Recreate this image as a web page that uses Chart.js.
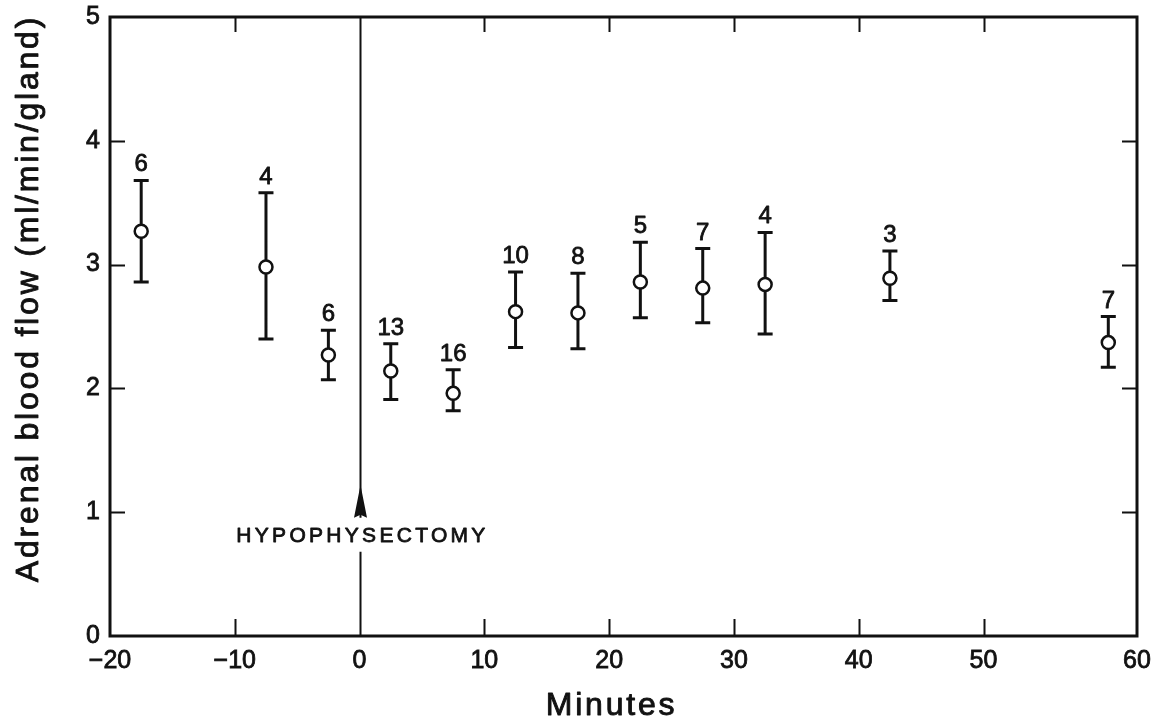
<!DOCTYPE html>
<html><head><meta charset="utf-8">
<script src="https://cdn.jsdelivr.net/npm/chart.js@4/dist/chart.umd.min.js"></script>
<style>html,body{margin:0;padding:0;background:#fff}#wrap{width:1157px;height:724px;position:relative}</style>
</head><body><div id="wrap"><canvas id="c"></canvas></div>
<script>
// ---- data ----
const minutes   = [-17.5, -7.5, -2.5, 2.5, 7.5, 12.5, 17.5, 22.5, 27.5, 32.5, 42.5, 60];
const flowMean  = [3.27, 2.98, 2.27, 2.14, 1.96, 2.62, 2.61, 2.86, 2.81, 2.84, 2.89, 2.37];
const flowUpper = [3.68, 3.58, 2.47, 2.36, 2.15, 2.94, 2.93, 3.18, 3.13, 3.26, 3.11, 2.58];
const flowLower = [2.86, 2.40, 2.07, 1.91, 1.82, 2.33, 2.32, 2.57, 2.53, 2.44, 2.71, 2.17];
const nLabels   = ['6', '4', '6', '13', '16', '10', '8', '5', '7', '4', '3', '7'];
const xTickValues = [-20, -10, 0, 10, 20, 30, 40, 50, 62.3];
const xTickLabels = ['−20', '−10', '0', '10', '20', '30', '40', '50', '60'];
const yTickValues = [0, 1, 2, 3, 4, 5];
const yTickLabels = ['0', '1', '2', '3', '4', '5'];
const xAxisTitle = 'Minutes';
const yAxisTitle = 'Adrenal blood flow (ml/min/gland)';
const eventLabel = 'HYPOPHYSECTOMY';
const eventX = 0;
const eventArrowTip = 1.22, eventArrowBase = 0.955, eventTextY = 0.81, eventLineResume = 0.68;

const INK = '#111';
const FONT = '"Liberation Sans", Arial, Helvetica, sans-serif';

function inkText(ctx, s, x, y, sw) {
  ctx.lineWidth = sw; ctx.strokeStyle = INK; ctx.lineJoin = 'round';
  ctx.strokeText(s, x, y);
  ctx.fillText(s, x, y);
}

const deco = {
  id: 'deco',
  beforeDatasetsDraw(chart) {
    const {ctx, scales: {x, y}, chartArea: a} = chart;
    ctx.save();
    ctx.strokeStyle = INK; ctx.fillStyle = INK; ctx.lineCap = 'butt';
    // frame
    ctx.lineWidth = 3;
    ctx.strokeRect(a.left, a.top, a.right - a.left, a.bottom - a.top);
    // inward ticks
    ctx.lineWidth = 2;
    ctx.beginPath();
    xTickValues.slice(1, -1).forEach(v => {
      if (v === eventX) return;
      const px = Math.round(x.getPixelForValue(v)) + 0.5;
      ctx.moveTo(px, a.bottom); ctx.lineTo(px, a.bottom - 17);
      ctx.moveTo(px, a.top); ctx.lineTo(px, a.top + 15);
    });
    yTickValues.slice(1, -1).forEach(v => {
      const py = Math.round(y.getPixelForValue(v)) + 0.5;
      ctx.moveTo(a.left, py); ctx.lineTo(a.left + 15, py);
      ctx.moveTo(a.right - 15, py); ctx.lineTo(a.right, py);
    });
    ctx.stroke();
    // event line + arrow + label
    const ex = Math.round(x.getPixelForValue(eventX)) + 0.5;
    const yTip = y.getPixelForValue(eventArrowTip), yBase = y.getPixelForValue(eventArrowBase);
    ctx.lineWidth = 2;
    ctx.beginPath();
    ctx.moveTo(ex, a.top); ctx.lineTo(ex, yBase);
    ctx.moveTo(ex, y.getPixelForValue(eventLineResume)); ctx.lineTo(ex, a.bottom);
    ctx.stroke();
    ctx.beginPath();
    ctx.moveTo(ex, yTip);
    ctx.lineTo(ex + 6.5, yBase);
    ctx.lineTo(ex, yBase - 3);
    ctx.lineTo(ex - 6.5, yBase);
    ctx.closePath(); ctx.fill();
    ctx.font = '21px ' + FONT;
    ctx.letterSpacing = '3.3px';
    ctx.textAlign = 'center'; ctx.textBaseline = 'middle';
    inkText(ctx, eventLabel, ex + 2, y.getPixelForValue(eventTextY), 0.8);
    ctx.letterSpacing = '0px';
    // error bars
    ctx.lineWidth = 3;
    ctx.beginPath();
    minutes.forEach((m, i) => {
      const px = x.getPixelForValue(m);
      const pu = y.getPixelForValue(flowUpper[i]), pl = y.getPixelForValue(flowLower[i]);
      ctx.moveTo(px, pu); ctx.lineTo(px, pl);
      ctx.moveTo(px - 7.5, pu); ctx.lineTo(px + 7.5, pu);
      ctx.moveTo(px - 7.5, pl); ctx.lineTo(px + 7.5, pl);
    });
    ctx.stroke();
    ctx.restore();
  },
  afterDatasetsDraw(chart) {
    const {ctx, scales: {x, y}} = chart;
    ctx.save();
    ctx.fillStyle = INK;
    ctx.font = '24px ' + FONT;
    ctx.textAlign = 'center'; ctx.textBaseline = 'alphabetic';
    minutes.forEach((m, i) => {
      inkText(ctx, nLabels[i], x.getPixelForValue(m), y.getPixelForValue(flowUpper[i]) - 9, 0.8);
    });
    ctx.restore();
  },
  afterDraw(chart) {
    const {ctx, chartArea: a} = chart;
    ctx.save();
    ctx.fillStyle = INK;
    ctx.font = '32px ' + FONT;
    ctx.letterSpacing = '2.8px';
    ctx.textAlign = 'center'; ctx.textBaseline = 'middle';
    inkText(ctx, xAxisTitle, (a.left + a.right) / 2 - 12, 706, 0.9);
    ctx.translate(29, (a.top + a.bottom) / 2 - 28);
    ctx.rotate(-Math.PI / 2);
    inkText(ctx, yAxisTitle, 0, 0, 0.9);
    ctx.restore();
  }
};

new Chart(document.getElementById('c'), {
  type: 'scatter',
  data: {
    datasets: [{
      data: minutes.map((m, i) => ({x: m, y: flowMean[i]})),
      pointStyle: 'circle',
      pointRadius: 6.5, pointHoverRadius: 6.5,
      pointBorderWidth: 2.5, pointHoverBorderWidth: 2.5,
      pointBackgroundColor: '#fff', pointBorderColor: INK,
      showLine: false
    }]
  },
  options: {
    responsive: true, maintainAspectRatio: false, animation: false,
    devicePixelRatio: 1,
    layout: {padding: {left: 0, right: 20, top: 17, bottom: 0}},
    plugins: {legend: {display: false}, tooltip: {enabled: false}},
    events: [],
    scales: {
      x: {
        type: 'linear', min: -20, max: 62.3,
        afterBuildTicks: s => { s.ticks = xTickValues.map(v => ({value: v})); },
        afterFit: s => { s.height = 88; s.paddingLeft = 0; s.paddingRight = 0; },
        grid: {display: false, drawTicks: false},
        border: {display: false},
        ticks: {
          autoSkip: false, maxRotation: 0, padding: 10, color: INK,
          textStrokeColor: INK, textStrokeWidth: 0.8,
          font: {family: FONT, size: 25},
          callback: (v, i) => xTickLabels[i]
        }
      },
      y: {
        type: 'linear', min: 0, max: 5,
        afterBuildTicks: s => { s.ticks = yTickValues.map(v => ({value: v})); },
        afterFit: s => { s.width = 110; s.paddingTop = 0; s.paddingBottom = 0; },
        grid: {display: false, drawTicks: false},
        border: {display: false},
        ticks: {
          padding: 10, color: INK,
          textStrokeColor: INK, textStrokeWidth: 0.8,
          font: {family: FONT, size: 25},
          callback: (v, i) => yTickLabels[i]
        }
      }
    }
  },
  plugins: [deco]
});
</script>
</body></html>
